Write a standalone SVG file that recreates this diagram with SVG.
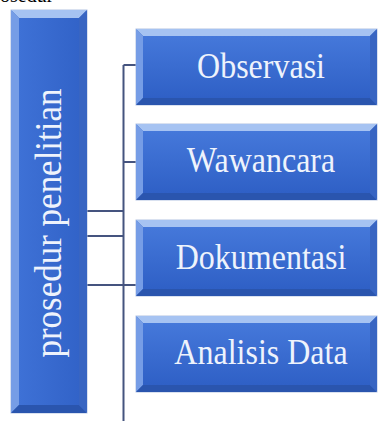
<svg xmlns="http://www.w3.org/2000/svg" width="378" height="421" viewBox="0 0 378 421">
<defs>
<linearGradient id="face" x1="0" y1="0" x2="0" y2="1">
<stop offset="0" stop-color="#4578da"/>
<stop offset="1" stop-color="#2f60c6"/>
</linearGradient>
<linearGradient id="faceV" x1="0" y1="0" x2="1" y2="0">
<stop offset="0" stop-color="#3e71d6"/>
<stop offset="1" stop-color="#3263c8"/>
</linearGradient>
</defs>
<style>
.base{fill:#3566c8;stroke:#b3c4e2;stroke-width:1}
.top{fill:#a6c3f2}
.left{fill:#769de6}
.bot{fill:#2a55ae}
.right{fill:#3865c2}
.lbl{font-family:"Liberation Serif","Times New Roman",serif;font-size:32px;fill:#eef3fc;text-anchor:middle}
.conn{stroke:#45547f;stroke-width:2;fill:none}
</style>
<text x="0" y="2" font-family="Liberation Serif,serif" font-size="20" fill="#000">osedur</text>
<g id="connectors">
<path class="conn" d="M123.5 65 V421 M123.5 65 H136 M123.5 162 H136 M87 211 H123.5 M87 236 H123.5 M87 285 H136"/>
</g>
<g id="root">
<rect class="base" x="11" y="10" width="76" height="403"/>
<polygon class="top" points="11,10 87,10 79,18 19,18"/>
<polygon class="left" points="11,10 19,18 19,405 11,413"/>
<polygon class="bot" points="11,413 19,405 79,405 87,413"/>
<polygon class="right" points="87,10 87,413 79,405 79,18"/>
<rect x="19" y="18" width="60" height="387" fill="url(#faceV)"/>
<text class="lbl" transform="translate(61,223) rotate(-90) scale(1,1.08)" style="font-size:35px">prosedur penelitian</text>
</g>
<g id="n1">
<rect class="base" x="136" y="29" width="241" height="76"/>
<polygon class="top" points="136,29 377,29 370,36 143,36"/>
<polygon class="left" points="136,29 143,36 143,98 136,105"/>
<polygon class="bot" points="136,105 143,98 370,98 377,105"/>
<polygon class="right" points="377,29 377,105 370,98 370,36"/>
<rect x="143" y="36" width="227" height="62" fill="url(#face)"/>
<text class="lbl" transform="translate(261,78) scale(1,1.12)">Observasi</text>
</g>
<g id="n2">
<rect class="base" x="136" y="124" width="241" height="76"/>
<polygon class="top" points="136,124 377,124 370,131 143,131"/>
<polygon class="left" points="136,124 143,131 143,193 136,200"/>
<polygon class="bot" points="136,200 143,193 370,193 377,200"/>
<polygon class="right" points="377,124 377,200 370,193 370,131"/>
<rect x="143" y="131" width="227" height="62" fill="url(#face)"/>
<text class="lbl" transform="translate(261,172) scale(1,1.12)">Wawancara</text>
</g>
<g id="n3">
<rect class="base" x="136" y="220" width="241" height="76"/>
<polygon class="top" points="136,220 377,220 370,227 143,227"/>
<polygon class="left" points="136,220 143,227 143,289 136,296"/>
<polygon class="bot" points="136,296 143,289 370,289 377,296"/>
<polygon class="right" points="377,220 377,296 370,289 370,227"/>
<rect x="143" y="227" width="227" height="62" fill="url(#face)"/>
<text class="lbl" transform="translate(261,269) scale(1,1.12)">Dokumentasi</text>
</g>
<g id="n4">
<rect class="base" x="136" y="316" width="241" height="76"/>
<polygon class="top" points="136,316 377,316 370,323 143,323"/>
<polygon class="left" points="136,316 143,323 143,385 136,392"/>
<polygon class="bot" points="136,392 143,385 370,385 377,392"/>
<polygon class="right" points="377,316 377,392 370,385 370,323"/>
<rect x="143" y="323" width="227" height="62" fill="url(#face)"/>
<text class="lbl" transform="translate(261,364) scale(1,1.12)">Analisis Data</text>
</g>
</svg>
